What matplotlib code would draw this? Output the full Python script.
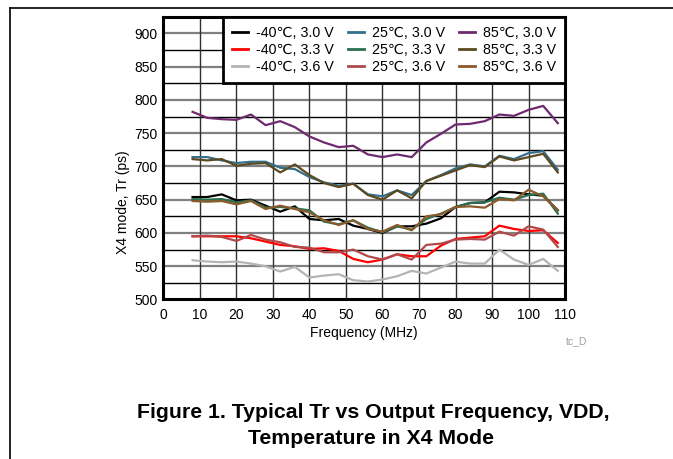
import matplotlib
matplotlib.use('Agg')
import matplotlib.pyplot as plt
from matplotlib.lines import Line2D

plt.rcParams['font.family'] = ['Liberation Sans', 'DejaVu Sans']

# 频率点 (MHz)
freq = [8, 12, 16, 20, 24, 28, 32, 36, 40, 44, 48, 52, 56,
        60, 64, 68, 72, 76, 80, 84, 88, 92, 96, 100, 104, 108]

# Tr (ps), 各温度/电压
m40_30 = [654, 654, 658, 649, 650, 641, 632, 640, 621, 619, 621, 611, 606,
          600, 610, 610, 614, 622, 639, 645, 646, 662, 661, 658, 656, 634]
m40_33 = [595, 595, 595, 595, 592, 587, 582, 580, 576, 577, 573, 561, 556,
          560, 568, 565, 565, 581, 591, 593, 595, 611, 606, 603, 604, 585]
m40_36 = [559, 557, 556, 557, 554, 550, 542, 549, 533, 536, 538, 529, 527,
          530, 535, 543, 539, 548, 557, 554, 554, 575, 560, 552, 561, 543]
p25_30 = [714, 714, 709, 705, 707, 707, 698, 696, 684, 676, 671, 674, 658,
          655, 664, 657, 678, 687, 697, 703, 700, 716, 711, 720, 723, 695]
p25_33 = [651, 650, 651, 646, 649, 638, 639, 637, 634, 617, 613, 619, 608,
          601, 610, 605, 621, 629, 639, 645, 646, 653, 650, 657, 659, 629]
p25_36 = [595, 596, 594, 588, 597, 590, 586, 579, 578, 571, 571, 575, 565,
          560, 568, 560, 582, 584, 590, 591, 590, 602, 596, 610, 605, 579]
p85_30 = [782, 773, 771, 770, 778, 762, 768, 759, 745, 736, 729, 731, 718,
          714, 718, 714, 736, 749, 763, 764, 768, 778, 776, 785, 791, 765]
p85_33 = [711, 709, 711, 701, 704, 705, 691, 703, 687, 675, 669, 674, 657,
          650, 664, 652, 678, 686, 694, 702, 699, 715, 709, 714, 719, 691]
p85_36 = [648, 647, 648, 643, 648, 636, 641, 636, 631, 619, 612, 619, 606,
          602, 612, 604, 625, 628, 639, 640, 638, 651, 649, 665, 655, 634]

series = [m40_30, m40_33, m40_36, p25_30, p25_33, p25_36, p85_30, p85_33, p85_36]
labels = ['-40℃, 3.0 V', '-40℃, 3.3 V', '-40℃, 3.6 V',
          '25℃, 3.0 V', '25℃, 3.3 V', '25℃, 3.6 V',
          '85℃, 3.0 V', '85℃, 3.3 V', '85℃, 3.6 V']
colors = ['#000000', '#ff0000', '#b4b4b4',
          '#336e8c', '#2a7050', '#b04a4a',
          '#6e2a6e', '#5c4a1e', '#8a5a2a']

fig = plt.figure(figsize=(6.73, 4.59), dpi=100)
ax = fig.add_axes([0.2427, 0.3475, 0.5970, 0.6161])

# 网格
for v in range(525, 925, 50):
    ax.axhline(v, color='black', lw=1.0, zorder=1)
for v in range(550, 925, 50):
    ax.axhline(v, color='#808080', lw=1.6, zorder=1)
for v in range(10, 110, 10):
    ax.axvline(v, color='#303030', lw=1.0, zorder=1)

for y, lab, c in zip(series, labels, colors):
    ax.plot(freq, y, color=c, lw=1.6, label=lab, zorder=3)

ax.set_xlim(0, 110)
ax.set_ylim(500, 925)
ax.set_xticks(range(0, 111, 10))
ax.set_yticks(range(500, 901, 50))
ax.tick_params(length=0, labelsize=10)
ax.tick_params(axis='x', pad=6)
ax.tick_params(axis='y', pad=4)
for s in ax.spines.values():
    s.set_linewidth(2.2)
    s.set_zorder(5)

ax.set_xlabel('Frequency (MHz)', fontsize=10, labelpad=3)
ax.set_ylabel('X4 mode, Tr (ps)', fontsize=10)
ax.yaxis.set_label_coords(-0.082, 0.345)

handles = [Line2D([], [], color=c, lw=2) for c in colors]
leg = ax.legend(handles, labels, ncol=3, loc='upper right', fontsize=10.3,
                borderaxespad=0, frameon=True, fancybox=False,
                handlelength=1.12, handletextpad=0.56, columnspacing=0.95,
                labelspacing=0.2, borderpad=0.65)
leg.get_frame().set_edgecolor('black')
leg.get_frame().set_linewidth(2)
leg.get_frame().set_alpha(1)
leg.set_zorder(6)

fig.text(577 / 673, 1 - 341 / 459, 'tc_D', color='#a0a0a0', fontsize=7.5,
         ha='center', va='center')

fig.text(373 / 673, 1 - 412 / 459, 'Figure 1. Typical Tr vs Output Frequency, VDD,',
         fontsize=15.3, fontweight='bold', ha='center', va='center')
fig.text(371 / 673, 1 - 439 / 459, 'Temperature in X4 Mode',
         fontsize=15.3, fontweight='bold', ha='center', va='center')

# 外框
fig.add_artist(Line2D([10 / 673, 10 / 673], [0, 1 - 8 / 459], color='black', lw=1.2))
fig.add_artist(Line2D([10 / 673, 1], [1 - 8 / 459, 1 - 8 / 459], color='black', lw=1.2))

fig.savefig('out.png', dpi=100)
